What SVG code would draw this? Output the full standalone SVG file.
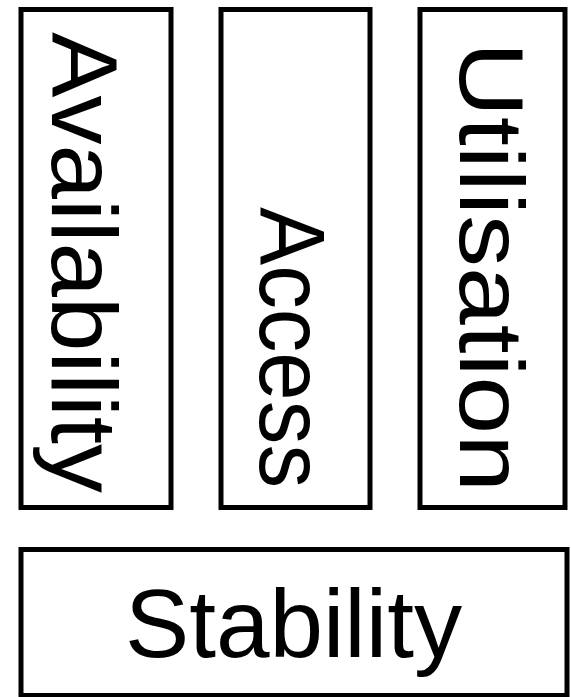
<svg xmlns="http://www.w3.org/2000/svg" width="571" height="697" viewBox="0 0 571 697">
  <style>
    .box { fill: #ffffff; stroke: #000000; stroke-width: 5; }
    .label { font-family: "Liberation Sans", Arial, sans-serif; fill: #000000; }
  </style>
  <rect x="0" y="0" width="571" height="697" fill="#ffffff"/>
  <g id="availability">
    <rect class="box" x="21" y="9.5" width="150" height="498"/>
    <text class="label" font-size="92" transform="translate(52,32) rotate(90)" x="0" y="0" textLength="461" lengthAdjust="spacingAndGlyphs">Availability</text>
  </g>
  <g id="access">
    <rect class="box" x="221" y="9.5" width="149" height="498"/>
    <text class="label" font-size="93" transform="translate(260,207) rotate(90)" x="0" y="0" textLength="281" lengthAdjust="spacingAndGlyphs">Access</text>
  </g>
  <g id="utilisation">
    <rect class="box" x="420" y="9.5" width="145" height="498"/>
    <text class="label" font-size="91" transform="translate(460,42) rotate(90)" x="0" y="0" textLength="450" lengthAdjust="spacingAndGlyphs">Utilisation</text>
  </g>
  <g id="stability">
    <rect class="box" x="21" y="549.5" width="546" height="146"/>
    <text class="label" font-size="96" x="125" y="657" textLength="337" lengthAdjust="spacingAndGlyphs">Stability</text>
  </g>
  <g id="connectors"/>
</svg>
